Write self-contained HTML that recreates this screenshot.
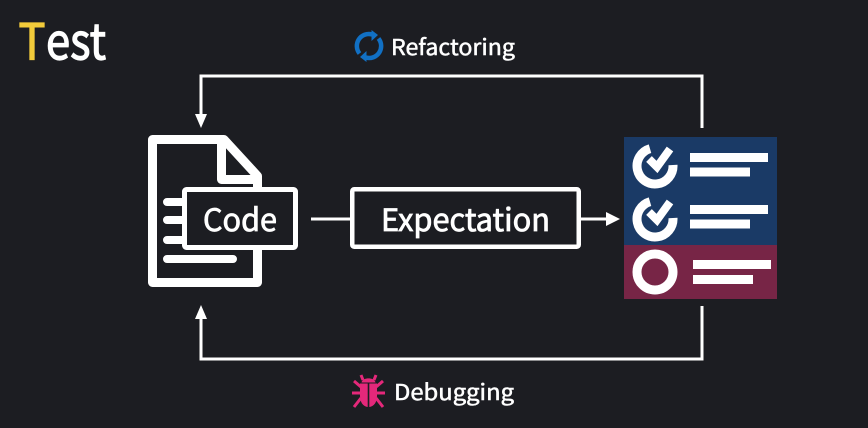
<!DOCTYPE html>
<html><head><meta charset="utf-8">
<style>
html,body{margin:0;padding:0;background:#1c1d22}
svg{display:block}
text{font-family:"Noto Sans CJK KR","Liberation Sans",sans-serif;fill:#fff;stroke:#fff;stroke-width:.5px}
.big{stroke-width:.8px}
</style></head>
<body>
<svg width="868" height="428" viewBox="0 0 868 428" xmlns="http://www.w3.org/2000/svg">
<rect width="868" height="428" fill="#1c1d22"/>

<text x="18.500" y="59.500" font-size="50" textLength="27" lengthAdjust="spacingAndGlyphs" style="stroke-width:1.200px;stroke:#f2cb3a;fill:#f2cb3a">T</text>
<text x="46" y="59.500" font-size="50" textLength="60" lengthAdjust="spacingAndGlyphs" style="stroke-width:1.200px">est</text>

<!-- connectors -->
<path d="M702 128V76H201V116" fill="none" stroke="#fff" stroke-width="3"/>
<path d="M195 114H207L201 128Z" fill="#fff"/>
<path d="M702 306V359H201V318" fill="none" stroke="#fff" stroke-width="3"/>
<path d="M195 319H207L201 305Z" fill="#fff"/>

<!-- document -->
<path d="M152.500 139.500H224L257.500 176V282.500H152.500Z" fill="#1c1d22" stroke="#fff" stroke-width="9" stroke-linejoin="round"/>
<path d="M221.500 140V179.500H257" fill="none" stroke="#fff" stroke-width="9" stroke-linejoin="round"/>
<g stroke="#fff" stroke-width="8" stroke-linecap="round">
<path d="M167 202H185M167 220H185M167 240H185M167 259H233"/>
</g>
<rect x="184.500" y="189.500" width="111" height="58" rx="2" fill="#1c1d22" stroke="#fff" stroke-width="5"/>
<text class="big" x="203" y="231" font-size="31" textLength="74" lengthAdjust="spacingAndGlyphs">Code</text>

<!-- expectation -->
<path d="M311 219H350M581 219H608" stroke="#fff" stroke-width="3" fill="none"/>
<path d="M606 212L620 219L606 226Z" fill="#fff"/>
<rect x="352.250" y="189.250" width="226.500" height="57.500" rx="2" fill="#1c1d22" stroke="#fff" stroke-width="4.500"/>
<text class="big" x="381" y="231" font-size="31" textLength="169" lengthAdjust="spacingAndGlyphs">Expectation</text>

<!-- results panel -->
<rect x="624" y="137" width="153" height="108" fill="#1a3a66"/>
<rect x="624" y="245" width="153" height="54" fill="#772546"/>
<g fill="none" stroke="#fff">
<path d="M650 148.700A18 18 0 1 0 673 165" stroke-width="9"/>
<path d="M649 159L657 167L670 149" stroke-width="8"/>
<path d="M650 201.700A18 18 0 1 0 673 218" stroke-width="9"/>
<path d="M649 212L657 220L670 202" stroke-width="8"/>
<circle cx="655" cy="272" r="18" stroke-width="9"/>
</g>
<g fill="#fff">
<rect x="690" y="153" width="78" height="9"/>
<rect x="690" y="167.500" width="60" height="9"/>
<rect x="690" y="205" width="78" height="9"/>
<rect x="690" y="219.500" width="60" height="9"/>
<rect x="693" y="260" width="78" height="9"/>
<rect x="693" y="275" width="60" height="9"/>
</g>

<!-- refactoring -->
<g fill="none" stroke="#1170c4" stroke-width="4.500">
<path d="M359.500 53.500A12 12 0 0 1 372 34.400"/>
<path d="M378.500 38.500A12 12 0 0 1 366 57.600"/>
</g>
<path d="M371.500 30L371.500 41L378 35Z M366.500 51L366.500 62L360 57Z" fill="#1170c4"/>
<text x="391" y="55" font-size="22" textLength="124" lengthAdjust="spacingAndGlyphs">Refactoring</text>

<!-- debugging -->
<g fill="#e4287a">
<path d="M361.500 382.500C362.500 377 374.500 377 375.500 382.500Z"/>
<path d="M360 383.500H367.700V407C363 406.500 360 402 360 396Z"/>
<path d="M377 383.500H369.300V407C374 406.500 377 402 377 396Z"/>
</g>
<g fill="none" stroke="#e4287a" stroke-width="3">
<path d="M363 380L361 375M374 380L376 375"/>
<path d="M361 387L354 381M376 387L383 381M360 393H352M377 393H385M361 398L354 407M376 398L383 407"/>
</g>
<text x="394" y="400" font-size="22" textLength="120" lengthAdjust="spacingAndGlyphs">Debugging</text>
</svg>
</body></html>
